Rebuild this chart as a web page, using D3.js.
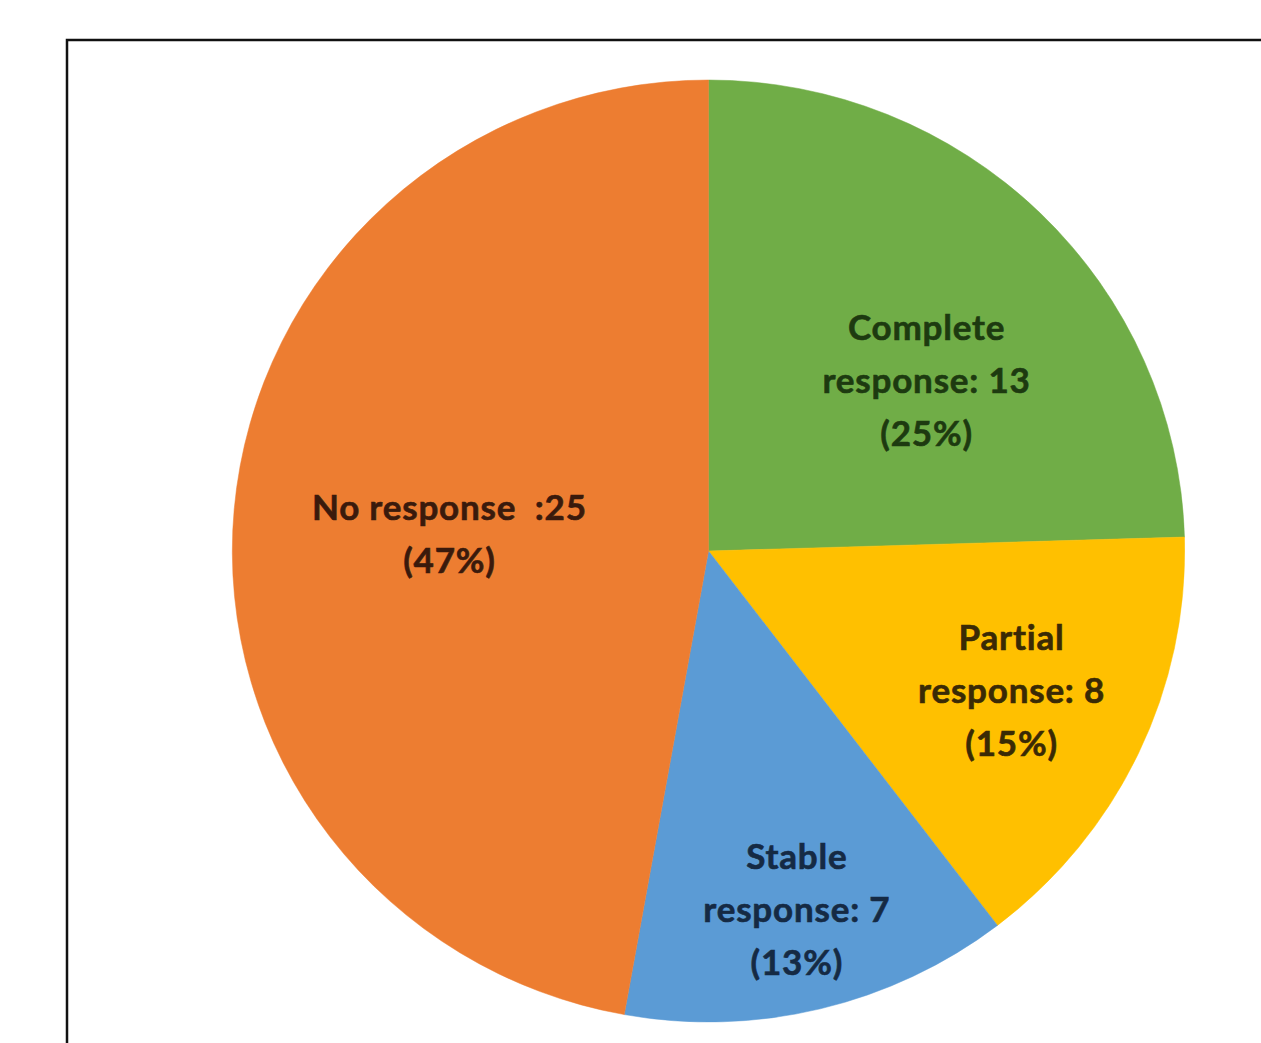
<!DOCTYPE html>
<html><head><meta charset="utf-8">
<script src="https://cdn.jsdelivr.net/npm/d3@7"></script>
<style>html,body{margin:0;padding:0;background:#fff;}svg{display:block;}text{white-space:pre;}</style>
</head><body>
<svg id="c" width="1261" height="1043"></svg>
<script>
const categories = ["Complete response", "Partial response", "Stable response", "No response"];
const values = [13, 8, 7, 25];
const percents = ["25%", "15%", "13%", "47%"];
const labelLines = [
  ["Complete", "response: 13", "(25%)"],
  ["Partial", "response: 8", "(15%)"],
  ["Stable", "response: 7", "(13%)"],
  ["No response  :25", "(47%)"]
];
const colors = ["#70AD47", "#FFC000", "#5B9BD5", "#ED7D31"];
const textColors = ["#1d3a10", "#3a2a05", "#152a44", "#3a1a0c"];
// layout: label radius (fraction of r) and angle shift (deg)
const labelRadius = [0.58, 0.705, 0.79, 0.545];
const labelShift = [8, 0, 0, -2];

const svg = d3.select("#c");
const W = 1261, H = 1043;
const cx = 708.5, cy = 551, r = 471, sx = 1.011;

// frame
svg.append("path").attr("d", `M67,${H} L67,40 L${W},40`).attr("fill","none").attr("stroke","#111").attr("stroke-width",2.5);

const pie = d3.pie().sort(null).value(d => d)(values);
const arc = d3.arc().innerRadius(0).outerRadius(r);
const g = svg.append("g").attr("transform", `translate(${cx},${cy})`);
g.append("g").attr("transform", `scale(${sx},1)`)
  .selectAll("path.s").data(pie).join("path").attr("class","s")
  .attr("d", arc).attr("fill", (d,i) => colors[i])
  .attr("stroke", (d,i)=>colors[i]).attr("stroke-width",0.5);

const lh = 53;
pie.forEach((d,i) => {
  const a = (d.startAngle + d.endAngle)/2 + labelShift[i]*Math.PI/180;
  const rr = r*labelRadius[i];
  const x = sx*rr*Math.sin(a), y = -rr*Math.cos(a);
  const lines = labelLines[i];
  const t = g.append("text").attr("text-anchor","middle").attr("xml:space","preserve")
    .attr("font-family","Lato, 'Open Sans', sans-serif").attr("font-weight","bold")
    .attr("font-size", 35).attr("letter-spacing", 0.8)
    .attr("fill", textColors[i]).attr("stroke", textColors[i]).attr("stroke-width", 0.6);
  lines.forEach((s,k) => {
    t.append("tspan").attr("x", x).attr("y", y + (k - (lines.length-1)/2)*lh).attr("dy","0.27em").text(s);
  });
});
</script>
</body></html>
